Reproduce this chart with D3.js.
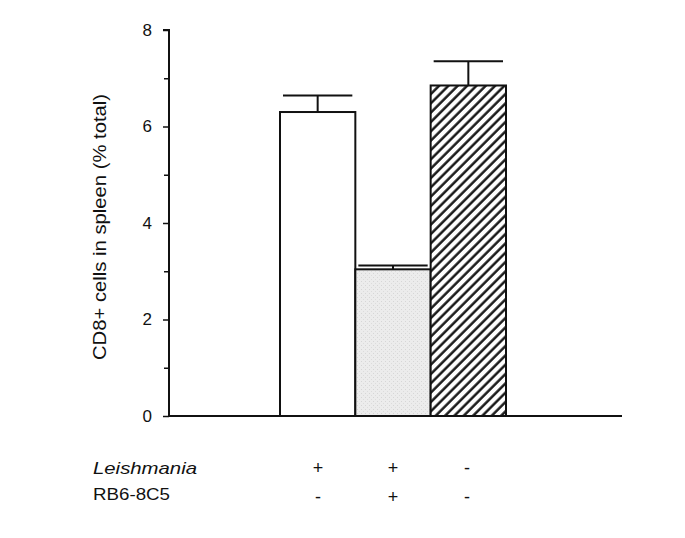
<!DOCTYPE html>
<html><head><meta charset="utf-8">
<script src="https://cdn.jsdelivr.net/npm/d3@7"></script>
<style>body{margin:0;background:#fff}svg{display:block}text{font-family:"Liberation Sans",Arial,sans-serif;fill:#111}</style>
</head><body>
<script>
const categories = ["A", "B", "C"];
const values = [6.30, 3.04, 6.85];
const errors = [0.34, 0.08, 0.50];
const leishmania = ["+", "+", "-"];
const rb6 = ["-", "+", "-"];
const yTicks = [0, 2, 4, 6, 8];
const yMinor = [1, 3, 5, 7];

const W = 685, H = 538;
const svg = d3.select("body").append("svg").attr("width", W).attr("height", H);
const defs = svg.append("defs");
const P = 6.6;
const pat = defs.append("pattern").attr("id","hatch").attr("patternUnits","userSpaceOnUse")
  .attr("width",P).attr("height",P).attr("patternTransform","rotate(45)");
pat.append("rect").attr("width",P).attr("height",P).attr("fill","#fff");
pat.append("line").attr("x1",1.5).attr("y1",0).attr("x2",1.5).attr("y2",P).attr("stroke","#111").attr("stroke-width",2.4);
const stip = defs.append("pattern").attr("id","stip").attr("patternUnits","userSpaceOnUse").attr("width",4).attr("height",4);
stip.append("rect").attr("width",4).attr("height",4).attr("fill","#ececec");
stip.append("rect").attr("x",1).attr("y",1).attr("width",1).attr("height",1).attr("fill","#d6d6d6");
stip.append("rect").attr("x",3).attr("y",3).attr("width",1).attr("height",1).attr("fill","#dcdcdc");

const y = d3.scaleLinear().domain([0, 8]).range([416, 30]);
const x = d3.scaleBand().domain(categories).range([280, 506]).padding(0);
const fills = ["#fff", "url(#stip)", "url(#hatch)"];

const g = svg.append("g");
categories.forEach((c, i) => {
  const cx = x(c) + x.bandwidth()/2;
  g.append("line").attr("x1",cx).attr("x2",cx).attr("y1",y(values[i])).attr("y2",y(values[i]+errors[i]))
    .attr("stroke","#111").attr("stroke-width",2);
  g.append("line").attr("x1",x(c)+3).attr("x2",x(c)+x.bandwidth()-3)
    .attr("y1",y(values[i]+errors[i])).attr("y2",y(values[i]+errors[i]))
    .attr("stroke","#111").attr("stroke-width",2);
});
categories.forEach((c, i) => {
  g.append("rect").attr("x",x(c)).attr("y",y(values[i])).attr("width",x.bandwidth())
   .attr("height",y(0)-y(values[i])).attr("fill",fills[i]).attr("stroke","#111").attr("stroke-width",2);
});

const ax = svg.append("g").attr("transform","translate(169,0)");
ax.call(d3.axisLeft(y).tickValues(yTicks).tickSize(6).tickFormat(d3.format("d")));
ax.select(".domain").attr("stroke","#111").attr("stroke-width",2).attr("d","M-6,"+y(8)+"H0V"+y(0));
ax.selectAll(".tick line").attr("stroke","#111").attr("stroke-width",1.5);
ax.selectAll(".tick text").attr("font-size",17).attr("x",-17).attr("font-family","Liberation Sans, Arial, sans-serif").attr("fill","#111");
const axm = svg.append("g").attr("transform","translate(169,0)");
axm.call(d3.axisLeft(y).tickValues(yMinor).tickSize(5).tickFormat(""));
axm.select(".domain").remove();
axm.selectAll(".tick line").attr("stroke","#111").attr("stroke-width",1.5);

svg.append("line").attr("x1",169).attr("x2",622).attr("y1",y(0)).attr("y2",y(0)).attr("stroke","#111").attr("stroke-width",2);

svg.append("text").attr("transform","translate(106,227) rotate(-90)").attr("text-anchor","middle")
  .attr("font-size",18).attr("textLength",266).attr("lengthAdjust","spacingAndGlyphs")
  .text("CD8+ cells in spleen (% total)");

svg.append("text").attr("x",93).attr("y",474).attr("font-size",17).attr("font-style","italic")
  .attr("textLength",104).attr("lengthAdjust","spacingAndGlyphs").text("Leishmania");
svg.append("text").attr("x",93).attr("y",500).attr("font-size",17)
  .attr("textLength",77).attr("lengthAdjust","spacingAndGlyphs").text("RB6-8C5");
const cols = [318, 393, 467];
categories.forEach((c, i) => {
  svg.append("text").attr("x",cols[i]).attr("y",474).attr("text-anchor","middle").attr("font-size",18).text(leishmania[i]);
  svg.append("text").attr("x",cols[i]).attr("y",503).attr("text-anchor","middle").attr("font-size",18).text(rb6[i]);
});
</script>
</body></html>
